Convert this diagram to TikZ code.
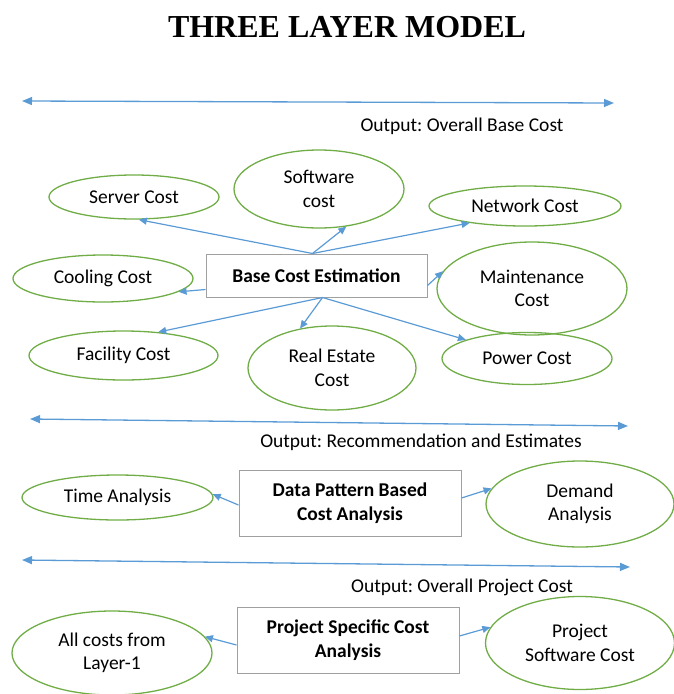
\documentclass[tikz,border=0pt]{standalone}
\usepackage{fontspec}
\setmainfont{Carlito}
\newfontfamily\titlefont{Liberation Serif}
\usetikzlibrary{shapes.geometric,arrows.meta}
\definecolor{lineblue}{RGB}{91,155,213}
\definecolor{ovgreen}{RGB}{112,173,71}
\definecolor{boxgray}{RGB}{160,160,160}
\frenchspacing
\tikzset{
  ov/.style={ellipse,draw=ovgreen,line width=1.3pt,inner sep=0pt,align=center,
    font=\fontsize{19.5}{23.5}\selectfont},
  rbox/.style={rectangle,draw=boxgray,line width=1pt,inner sep=0pt,align=center,
    font=\fontsize{19.5}{23.5}\selectfont\bfseries},
  outtxt/.style={font=\fontsize{19.5}{23.5}\selectfont,inner sep=0pt},
  conn/.style={draw=lineblue,line width=1.2pt,-{Triangle[length=8pt,width=7pt]}},
  span/.style={draw=lineblue,line width=1.3pt,{Triangle[length=10pt,width=8pt]}-{Triangle[length=10pt,width=8pt]}}
}
\begin{document}
\begin{tikzpicture}[x=1pt,y=-1pt]
\useasboundingbox (0,0) rectangle (674,694);
\clip (0,0) rectangle (674,694);
\node[font=\titlefont\fontsize{32}{36}\selectfont\bfseries] (title) at (347,27) {THREE LAYER MODEL};

% Layer 1
\coordinate (l1a) at (22,101);
\coordinate (l1b) at (614,103);
\draw[span] (l1a) -- (l1b);
\node[outtxt] (out1) at (462,126) {Output: Overall Base Cost};

\node[rbox,minimum width=221pt,minimum height=43pt] (base) at (316.5,275.5) {Base Cost Estimation};
\node[ov,minimum width=170pt,minimum height=44pt] (server) at (134,197) {Server Cost};
\node[ov,minimum width=170pt,minimum height=78pt] (software) at (319,189) {Software\\cost};
\node[ov,minimum width=192pt,minimum height=40pt] (network) at (525,206) {Network Cost};
\node[ov,minimum width=180pt,minimum height=47pt] (cooling) at (103,278.5) {Cooling Cost};
\node[ov,minimum width=190pt,minimum height=93pt] (maint) at (532,288.5) {Maintenance\\Cost};
\node[ov,minimum width=189pt,minimum height=49pt] (facility) at (123.5,355.5) {Facility Cost};
\node[ov,minimum width=168pt,minimum height=84pt] (realestate) at (332,368) {Real Estate\\Cost};
\node[ov,minimum width=170pt,minimum height=52pt] (power) at (527,358.5) {Power Cost};

\draw[conn] ([xshift=-4pt]base.north) -- (server.-78);
\draw[conn] ([xshift=-4pt]base.north) -- (software.-54);
\draw[conn] ([xshift=-4pt]base.north) -- (network.-163);
\draw[conn] ([yshift=-14pt]base.west) -- (cooling.-10);
\draw[conn] ([yshift=-10pt]base.east) -- (maint.169);
\draw[conn] ([xshift=6pt]base.south) -- (facility.34);
\draw[conn] ([xshift=6pt]base.south) -- (realestate.129);
\draw[conn] ([xshift=6pt]base.south) -- (power.163);

% Layer 2
\coordinate (l2a) at (30,419);
\coordinate (l2b) at (628,426);
\draw[span] (l2a) -- (l2b);
\node[outtxt] (out2) at (421,442) {Output: Recommendation and Estimates};

\node[rbox,minimum width=222pt,minimum height=66pt] (dp) at (350,503) {Data Pattern Based\\Cost Analysis};
\node[ov,minimum width=191pt,minimum height=45pt] (time) at (117.5,497.5) {Time Analysis};
\node[ov,minimum width=188pt,minimum height=86pt] (demand) at (580,504) {Demand\\Analysis};
\draw[conn] ([yshift=-2pt]dp.west) -- (time.2);
\draw[conn] ([yshift=5pt]dp.east) -- (demand.170);

% Layer 3
\coordinate (l3a) at (22,560);
\coordinate (l3b) at (630,567);
\draw[span] (l3a) -- (l3b);
\node[outtxt] (out3) at (462,587) {Output: Overall Project Cost};

\node[rbox,minimum width=222pt,minimum height=66pt] (ps) at (348,640) {Project Specific Cost\\Analysis};
\node[ov,minimum width=200pt,minimum height=84pt] (allcost) at (112,653) {All costs from\\Layer-1};
\node[ov,minimum width=189pt,minimum height=93pt] (psc) at (580,643) {Project\\Software Cost};
\draw[conn] ([yshift=-5pt]ps.west) -- (allcost.10);
\draw[conn] ([yshift=4pt]ps.east) -- (psc.170);
\end{tikzpicture}
\end{document}
